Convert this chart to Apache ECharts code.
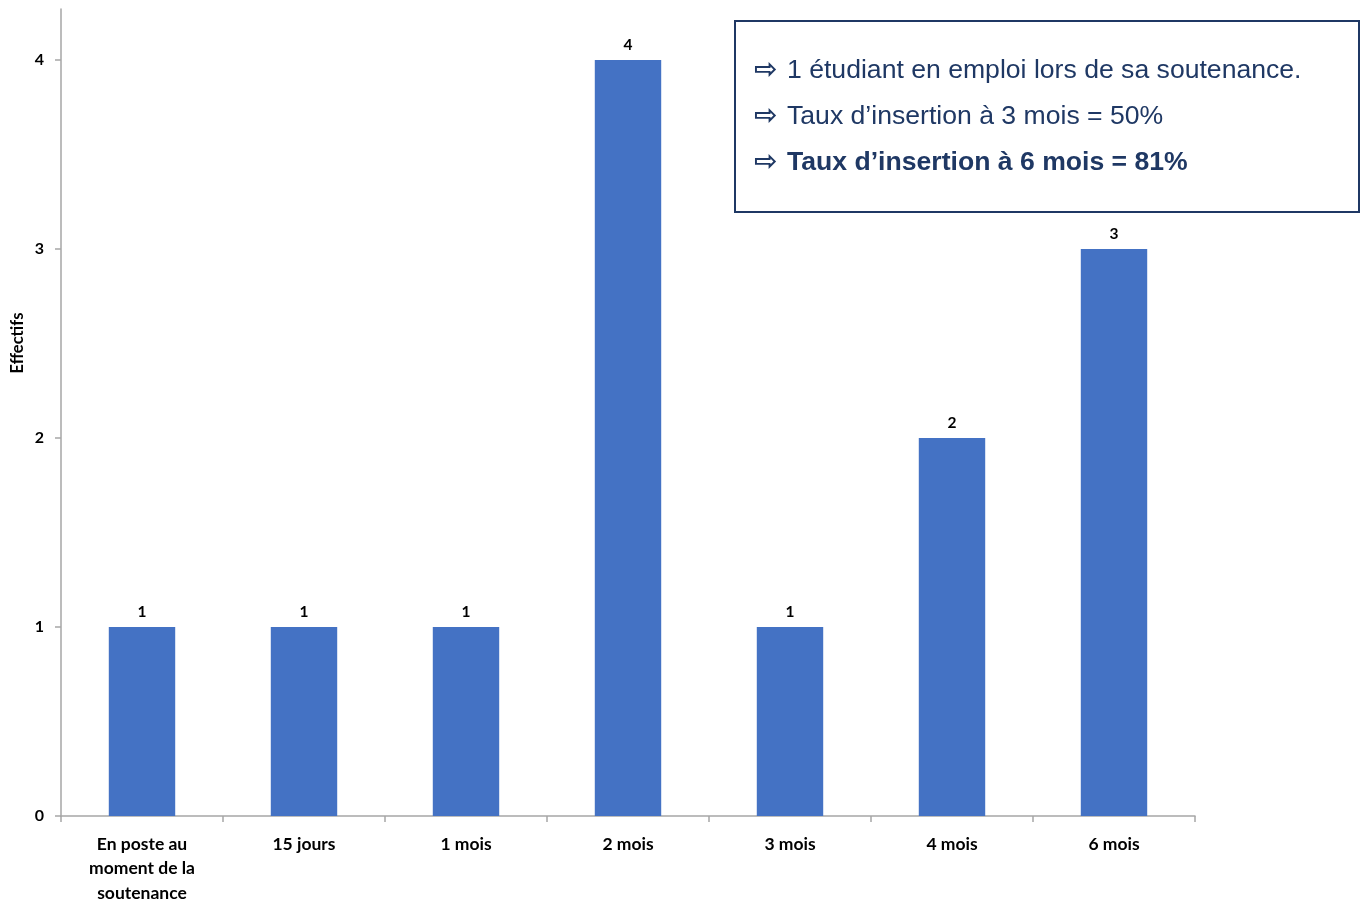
<!DOCTYPE html>
<html>
<head>
<meta charset="utf-8">
<script src="https://cdn.jsdelivr.net/npm/echarts@6/dist/echarts.min.js"></script>
<style>html,body{margin:0;padding:0;background:#fff}#c{width:1362px;height:899px}</style>
</head>
<body>
<div id="c"></div>
<script>
const categories = ['En poste au\nmoment de la\nsoutenance', '15 jours', '1 mois', '2 mois', '3 mois', '4 mois', '6 mois'];
const effectifs = [1, 1, 1, 4, 1, 2, 3];
const yTicks = [0, 1, 2, 3, 4];
const yAxisName = 'Effectifs';
const noteLines = [
  '1 étudiant en emploi lors de sa soutenance.',
  'Taux d’insertion à 3 mois = 50%',
  'Taux d’insertion à 6 mois = 81%'
];

const chart = echarts.init(document.getElementById('c'));
const navy = '#1F3864';
const axisGray = '#A6A6A6';
const fontFam = 'Lato, "Open Sans", sans-serif';

const noteGraphics = [
  { type: 'rect', left: 734, top: 20, shape: { width: 624, height: 191 },
    style: { fill: '#fff', stroke: navy, lineWidth: 2 } }
];
noteLines.forEach((t, i) => {
  const y = 71 + i * 46;
  noteGraphics.push({ type: 'text', x: 754, y: y, style: { text: '⇨', font: 'bold 28px "DejaVu Sans"', fill: navy, textVerticalAlign: 'middle' } });
  noteGraphics.push({ type: 'text', x: 787, y: y, style: { text: t, font: (i === 2 ? 'bold ' : '') + '26.6px "Liberation Sans", Arial, sans-serif', fill: navy, textVerticalAlign: 'middle' } });
});

chart.setOption({
  animation: false,
  grid: { left: 61, right: 167, top: 9, bottom: 83, containLabel: false, outerBoundsMode: 'none' },
  xAxis: {
    type: 'category',
    data: categories,
    axisLine: { lineStyle: { color: axisGray, width: 1.5 } },
    axisTick: { show: true, alignWithLabel: false, length: 6, lineStyle: { color: axisGray, width: 1.5 } },
    axisLabel: { color: '#000', fontFamily: fontFam, fontWeight: 'bold', fontSize: 17.5, lineHeight: 24.5, margin: 16, interval: 0 }
  },
  yAxis: {
    type: 'value',
    min: 0,
    max: 4.27,
    interval: 1,
    splitLine: { show: false },
    axisLine: { show: true, lineStyle: { color: axisGray, width: 1.5 } },
    axisTick: { show: true, length: 6, customValues: yTicks, lineStyle: { color: axisGray, width: 1.5 } },
    axisLabel: { customValues: yTicks, color: '#000', fontFamily: fontFam, fontWeight: 'bold', fontSize: 16, margin: 17 }
  },
  series: [{
    type: 'bar',
    data: effectifs,
    barWidth: '41%',
    itemStyle: { color: '#4472C4' },
    label: { show: true, position: 'top', distance: 7, color: '#000', fontFamily: fontFam, fontWeight: 'bold', fontSize: 15.5 }
  }],
  graphic: [
    { type: 'text', x: 18, y: 343, rotation: Math.PI / 2, style: { text: yAxisName, font: 'bold 16.5px ' + fontFam, fill: '#000', textAlign: 'center', textVerticalAlign: 'middle' } }
  ].concat(noteGraphics)
});
</script>
</body>
</html>
